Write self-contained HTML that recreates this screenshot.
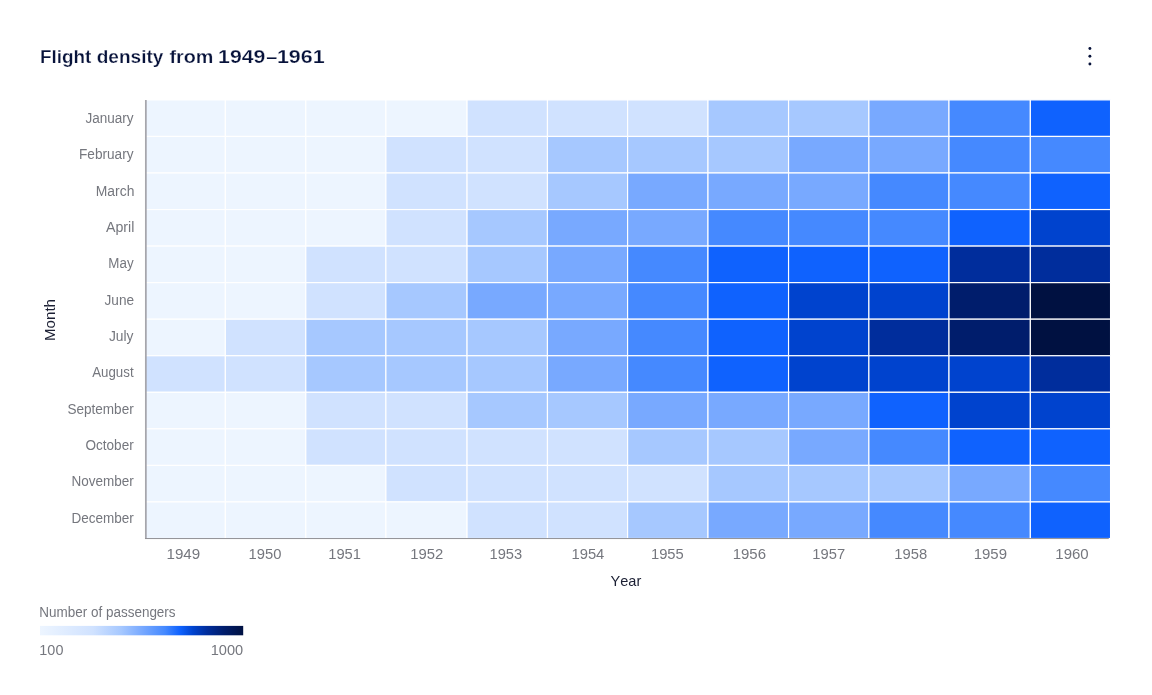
<!DOCTYPE html>
<html lang="en"><head><meta charset="utf-8"><title>Flight density from 1949–1961</title>
<style>html,body{margin:0;padding:0;background:#fff;}body{width:1152px;height:695px;overflow:hidden;}svg{display:block;}text{font-family:"Liberation Sans",sans-serif;font-kerning:none;}</style>
</head><body>
<svg width="1152" height="695" viewBox="0 0 1152 695">
<rect width="1152" height="695" fill="#ffffff"/>
<text class="title" y="62.6" font-weight="bold" font-size="18.6" fill="#07123a" stroke="#ffffff" stroke-width="0.25" paint-order="fill stroke">
<tspan x="39.93" textLength="51.51" lengthAdjust="spacingAndGlyphs">Flight</tspan> <tspan x="96.73" textLength="66.68" lengthAdjust="spacingAndGlyphs">density</tspan> <tspan x="169.53" textLength="43.95" lengthAdjust="spacingAndGlyphs">from</tspan> <tspan x="218.11" textLength="47.3" lengthAdjust="spacingAndGlyphs">1949</tspan><tspan x="266.26" textLength="11.07" lengthAdjust="spacingAndGlyphs">–</tspan><tspan x="276.9" textLength="47.78" lengthAdjust="spacingAndGlyphs">1961</tspan>
</text>
<g fill="#07123a"><circle cx="1089.9" cy="48.5" r="1.45"/><circle cx="1089.9" cy="56.2" r="1.45"/><circle cx="1089.9" cy="64" r="1.45"/></g>
<g class="heat" stroke="#ffffff" stroke-width="1.167">
<rect x="144.85" y="99.90" width="80.50" height="36.55" fill="#edf5ff"/>
<rect x="225.35" y="99.90" width="80.45" height="36.55" fill="#edf5ff"/>
<rect x="305.80" y="99.90" width="80.10" height="36.55" fill="#edf5ff"/>
<rect x="385.90" y="99.90" width="81.16" height="36.55" fill="#edf5ff"/>
<rect x="467.06" y="99.90" width="80.40" height="36.55" fill="#d0e2ff"/>
<rect x="547.46" y="99.90" width="80.14" height="36.55" fill="#d0e2ff"/>
<rect x="627.60" y="99.90" width="80.40" height="36.55" fill="#d0e2ff"/>
<rect x="708.00" y="99.90" width="80.56" height="36.55" fill="#a6c8ff"/>
<rect x="788.56" y="99.90" width="80.34" height="36.55" fill="#a6c8ff"/>
<rect x="868.90" y="99.90" width="80.10" height="36.55" fill="#78a9ff"/>
<rect x="949.00" y="99.90" width="81.35" height="36.55" fill="#4589ff"/>
<rect x="1030.35" y="99.90" width="80.21" height="36.55" fill="#0f62fe"/>
<rect x="144.85" y="136.45" width="80.50" height="36.55" fill="#edf5ff"/>
<rect x="225.35" y="136.45" width="80.45" height="36.55" fill="#edf5ff"/>
<rect x="305.80" y="136.45" width="80.10" height="36.55" fill="#edf5ff"/>
<rect x="385.90" y="136.45" width="81.16" height="36.55" fill="#d0e2ff"/>
<rect x="467.06" y="136.45" width="80.40" height="36.55" fill="#d0e2ff"/>
<rect x="547.46" y="136.45" width="80.14" height="36.55" fill="#a6c8ff"/>
<rect x="627.60" y="136.45" width="80.40" height="36.55" fill="#a6c8ff"/>
<rect x="708.00" y="136.45" width="80.56" height="36.55" fill="#a6c8ff"/>
<rect x="788.56" y="136.45" width="80.34" height="36.55" fill="#78a9ff"/>
<rect x="868.90" y="136.45" width="80.10" height="36.55" fill="#78a9ff"/>
<rect x="949.00" y="136.45" width="81.35" height="36.55" fill="#4589ff"/>
<rect x="1030.35" y="136.45" width="80.21" height="36.55" fill="#4589ff"/>
<rect x="144.85" y="173.00" width="80.50" height="36.55" fill="#edf5ff"/>
<rect x="225.35" y="173.00" width="80.45" height="36.55" fill="#edf5ff"/>
<rect x="305.80" y="173.00" width="80.10" height="36.55" fill="#edf5ff"/>
<rect x="385.90" y="173.00" width="81.16" height="36.55" fill="#d0e2ff"/>
<rect x="467.06" y="173.00" width="80.40" height="36.55" fill="#d0e2ff"/>
<rect x="547.46" y="173.00" width="80.14" height="36.55" fill="#a6c8ff"/>
<rect x="627.60" y="173.00" width="80.40" height="36.55" fill="#78a9ff"/>
<rect x="708.00" y="173.00" width="80.56" height="36.55" fill="#78a9ff"/>
<rect x="788.56" y="173.00" width="80.34" height="36.55" fill="#78a9ff"/>
<rect x="868.90" y="173.00" width="80.10" height="36.55" fill="#4589ff"/>
<rect x="949.00" y="173.00" width="81.35" height="36.55" fill="#4589ff"/>
<rect x="1030.35" y="173.00" width="80.21" height="36.55" fill="#0f62fe"/>
<rect x="144.85" y="209.55" width="80.50" height="36.55" fill="#edf5ff"/>
<rect x="225.35" y="209.55" width="80.45" height="36.55" fill="#edf5ff"/>
<rect x="305.80" y="209.55" width="80.10" height="36.55" fill="#edf5ff"/>
<rect x="385.90" y="209.55" width="81.16" height="36.55" fill="#d0e2ff"/>
<rect x="467.06" y="209.55" width="80.40" height="36.55" fill="#a6c8ff"/>
<rect x="547.46" y="209.55" width="80.14" height="36.55" fill="#78a9ff"/>
<rect x="627.60" y="209.55" width="80.40" height="36.55" fill="#78a9ff"/>
<rect x="708.00" y="209.55" width="80.56" height="36.55" fill="#4589ff"/>
<rect x="788.56" y="209.55" width="80.34" height="36.55" fill="#4589ff"/>
<rect x="868.90" y="209.55" width="80.10" height="36.55" fill="#4589ff"/>
<rect x="949.00" y="209.55" width="81.35" height="36.55" fill="#0f62fe"/>
<rect x="1030.35" y="209.55" width="80.21" height="36.55" fill="#0043ce"/>
<rect x="144.85" y="246.10" width="80.50" height="36.55" fill="#edf5ff"/>
<rect x="225.35" y="246.10" width="80.45" height="36.55" fill="#edf5ff"/>
<rect x="305.80" y="246.10" width="80.10" height="36.55" fill="#d0e2ff"/>
<rect x="385.90" y="246.10" width="81.16" height="36.55" fill="#d0e2ff"/>
<rect x="467.06" y="246.10" width="80.40" height="36.55" fill="#a6c8ff"/>
<rect x="547.46" y="246.10" width="80.14" height="36.55" fill="#78a9ff"/>
<rect x="627.60" y="246.10" width="80.40" height="36.55" fill="#4589ff"/>
<rect x="708.00" y="246.10" width="80.56" height="36.55" fill="#0f62fe"/>
<rect x="788.56" y="246.10" width="80.34" height="36.55" fill="#0f62fe"/>
<rect x="868.90" y="246.10" width="80.10" height="36.55" fill="#0f62fe"/>
<rect x="949.00" y="246.10" width="81.35" height="36.55" fill="#002d9c"/>
<rect x="1030.35" y="246.10" width="80.21" height="36.55" fill="#002d9c"/>
<rect x="144.85" y="282.65" width="80.50" height="36.55" fill="#edf5ff"/>
<rect x="225.35" y="282.65" width="80.45" height="36.55" fill="#edf5ff"/>
<rect x="305.80" y="282.65" width="80.10" height="36.55" fill="#d0e2ff"/>
<rect x="385.90" y="282.65" width="81.16" height="36.55" fill="#a6c8ff"/>
<rect x="467.06" y="282.65" width="80.40" height="36.55" fill="#78a9ff"/>
<rect x="547.46" y="282.65" width="80.14" height="36.55" fill="#78a9ff"/>
<rect x="627.60" y="282.65" width="80.40" height="36.55" fill="#4589ff"/>
<rect x="708.00" y="282.65" width="80.56" height="36.55" fill="#0f62fe"/>
<rect x="788.56" y="282.65" width="80.34" height="36.55" fill="#0043ce"/>
<rect x="868.90" y="282.65" width="80.10" height="36.55" fill="#0043ce"/>
<rect x="949.00" y="282.65" width="81.35" height="36.55" fill="#001d6c"/>
<rect x="1030.35" y="282.65" width="80.21" height="36.55" fill="#001141"/>
<rect x="144.85" y="319.20" width="80.50" height="36.55" fill="#edf5ff"/>
<rect x="225.35" y="319.20" width="80.45" height="36.55" fill="#d0e2ff"/>
<rect x="305.80" y="319.20" width="80.10" height="36.55" fill="#a6c8ff"/>
<rect x="385.90" y="319.20" width="81.16" height="36.55" fill="#a6c8ff"/>
<rect x="467.06" y="319.20" width="80.40" height="36.55" fill="#a6c8ff"/>
<rect x="547.46" y="319.20" width="80.14" height="36.55" fill="#78a9ff"/>
<rect x="627.60" y="319.20" width="80.40" height="36.55" fill="#4589ff"/>
<rect x="708.00" y="319.20" width="80.56" height="36.55" fill="#0f62fe"/>
<rect x="788.56" y="319.20" width="80.34" height="36.55" fill="#0043ce"/>
<rect x="868.90" y="319.20" width="80.10" height="36.55" fill="#002d9c"/>
<rect x="949.00" y="319.20" width="81.35" height="36.55" fill="#001d6c"/>
<rect x="1030.35" y="319.20" width="80.21" height="36.55" fill="#001141"/>
<rect x="144.85" y="355.75" width="80.50" height="36.55" fill="#d0e2ff"/>
<rect x="225.35" y="355.75" width="80.45" height="36.55" fill="#d0e2ff"/>
<rect x="305.80" y="355.75" width="80.10" height="36.55" fill="#a6c8ff"/>
<rect x="385.90" y="355.75" width="81.16" height="36.55" fill="#a6c8ff"/>
<rect x="467.06" y="355.75" width="80.40" height="36.55" fill="#a6c8ff"/>
<rect x="547.46" y="355.75" width="80.14" height="36.55" fill="#78a9ff"/>
<rect x="627.60" y="355.75" width="80.40" height="36.55" fill="#4589ff"/>
<rect x="708.00" y="355.75" width="80.56" height="36.55" fill="#0f62fe"/>
<rect x="788.56" y="355.75" width="80.34" height="36.55" fill="#0043ce"/>
<rect x="868.90" y="355.75" width="80.10" height="36.55" fill="#0043ce"/>
<rect x="949.00" y="355.75" width="81.35" height="36.55" fill="#0043ce"/>
<rect x="1030.35" y="355.75" width="80.21" height="36.55" fill="#002d9c"/>
<rect x="144.85" y="392.30" width="80.50" height="36.55" fill="#edf5ff"/>
<rect x="225.35" y="392.30" width="80.45" height="36.55" fill="#edf5ff"/>
<rect x="305.80" y="392.30" width="80.10" height="36.55" fill="#d0e2ff"/>
<rect x="385.90" y="392.30" width="81.16" height="36.55" fill="#d0e2ff"/>
<rect x="467.06" y="392.30" width="80.40" height="36.55" fill="#a6c8ff"/>
<rect x="547.46" y="392.30" width="80.14" height="36.55" fill="#a6c8ff"/>
<rect x="627.60" y="392.30" width="80.40" height="36.55" fill="#78a9ff"/>
<rect x="708.00" y="392.30" width="80.56" height="36.55" fill="#78a9ff"/>
<rect x="788.56" y="392.30" width="80.34" height="36.55" fill="#78a9ff"/>
<rect x="868.90" y="392.30" width="80.10" height="36.55" fill="#0f62fe"/>
<rect x="949.00" y="392.30" width="81.35" height="36.55" fill="#0043ce"/>
<rect x="1030.35" y="392.30" width="80.21" height="36.55" fill="#0043ce"/>
<rect x="144.85" y="428.85" width="80.50" height="36.55" fill="#edf5ff"/>
<rect x="225.35" y="428.85" width="80.45" height="36.55" fill="#edf5ff"/>
<rect x="305.80" y="428.85" width="80.10" height="36.55" fill="#d0e2ff"/>
<rect x="385.90" y="428.85" width="81.16" height="36.55" fill="#d0e2ff"/>
<rect x="467.06" y="428.85" width="80.40" height="36.55" fill="#d0e2ff"/>
<rect x="547.46" y="428.85" width="80.14" height="36.55" fill="#d0e2ff"/>
<rect x="627.60" y="428.85" width="80.40" height="36.55" fill="#a6c8ff"/>
<rect x="708.00" y="428.85" width="80.56" height="36.55" fill="#a6c8ff"/>
<rect x="788.56" y="428.85" width="80.34" height="36.55" fill="#78a9ff"/>
<rect x="868.90" y="428.85" width="80.10" height="36.55" fill="#4589ff"/>
<rect x="949.00" y="428.85" width="81.35" height="36.55" fill="#0f62fe"/>
<rect x="1030.35" y="428.85" width="80.21" height="36.55" fill="#0f62fe"/>
<rect x="144.85" y="465.40" width="80.50" height="36.55" fill="#edf5ff"/>
<rect x="225.35" y="465.40" width="80.45" height="36.55" fill="#edf5ff"/>
<rect x="305.80" y="465.40" width="80.10" height="36.55" fill="#edf5ff"/>
<rect x="385.90" y="465.40" width="81.16" height="36.55" fill="#d0e2ff"/>
<rect x="467.06" y="465.40" width="80.40" height="36.55" fill="#d0e2ff"/>
<rect x="547.46" y="465.40" width="80.14" height="36.55" fill="#d0e2ff"/>
<rect x="627.60" y="465.40" width="80.40" height="36.55" fill="#d0e2ff"/>
<rect x="708.00" y="465.40" width="80.56" height="36.55" fill="#a6c8ff"/>
<rect x="788.56" y="465.40" width="80.34" height="36.55" fill="#a6c8ff"/>
<rect x="868.90" y="465.40" width="80.10" height="36.55" fill="#a6c8ff"/>
<rect x="949.00" y="465.40" width="81.35" height="36.55" fill="#78a9ff"/>
<rect x="1030.35" y="465.40" width="80.21" height="36.55" fill="#4589ff"/>
<rect x="144.85" y="501.95" width="80.50" height="36.55" fill="#edf5ff"/>
<rect x="225.35" y="501.95" width="80.45" height="36.55" fill="#edf5ff"/>
<rect x="305.80" y="501.95" width="80.10" height="36.55" fill="#edf5ff"/>
<rect x="385.90" y="501.95" width="81.16" height="36.55" fill="#edf5ff"/>
<rect x="467.06" y="501.95" width="80.40" height="36.55" fill="#d0e2ff"/>
<rect x="547.46" y="501.95" width="80.14" height="36.55" fill="#d0e2ff"/>
<rect x="627.60" y="501.95" width="80.40" height="36.55" fill="#a6c8ff"/>
<rect x="708.00" y="501.95" width="80.56" height="36.55" fill="#78a9ff"/>
<rect x="788.56" y="501.95" width="80.34" height="36.55" fill="#78a9ff"/>
<rect x="868.90" y="501.95" width="80.10" height="36.55" fill="#4589ff"/>
<rect x="949.00" y="501.95" width="81.35" height="36.55" fill="#4589ff"/>
<rect x="1030.35" y="501.95" width="80.21" height="36.55" fill="#0f62fe"/>
</g>
<line x1="145.85" y1="99.9" x2="145.85" y2="539.05" stroke="#a6a6ac" stroke-width="1.75"/>
<line x1="145" y1="538.55" x2="1108.8" y2="538.55" stroke="#909095" stroke-width="1.0"/>
<g class="ylab" font-size="14" fill="#75777e">
<text x="85.46" textLength="48.1" lengthAdjust="spacingAndGlyphs" y="123.00">January</text>
<text x="79.01" textLength="54.53" lengthAdjust="spacingAndGlyphs" y="159.33">February</text>
<text x="95.78" textLength="38.62" lengthAdjust="spacingAndGlyphs" y="195.66">March</text>
<text x="106.0" textLength="28.4" lengthAdjust="spacingAndGlyphs" y="231.99">April</text>
<text x="108.33" textLength="25.25" lengthAdjust="spacingAndGlyphs" y="268.32">May</text>
<text x="104.56" textLength="29.54" lengthAdjust="spacingAndGlyphs" y="304.65">June</text>
<text x="108.95" textLength="24.58" lengthAdjust="spacingAndGlyphs" y="340.98">July</text>
<text x="92.2" textLength="41.39" lengthAdjust="spacingAndGlyphs" y="377.31">August</text>
<text x="67.39" textLength="66.33" lengthAdjust="spacingAndGlyphs" y="413.64">September</text>
<text x="85.5" textLength="48.19" lengthAdjust="spacingAndGlyphs" y="449.97">October</text>
<text x="71.42" textLength="62.3" lengthAdjust="spacingAndGlyphs" y="486.30">November</text>
<text x="71.42" textLength="62.3" lengthAdjust="spacingAndGlyphs" y="522.63">December</text>
</g>
<g class="xlab" font-size="14.3" fill="#75777e">
<text x="166.51" textLength="33.72" lengthAdjust="spacingAndGlyphs" y="559.0">1949</text>
<text x="248.64" textLength="32.84" lengthAdjust="spacingAndGlyphs" y="559.0">1950</text>
<text x="328.24" textLength="32.77" lengthAdjust="spacingAndGlyphs" y="559.0">1951</text>
<text x="410.23" textLength="32.98" lengthAdjust="spacingAndGlyphs" y="559.0">1952</text>
<text x="489.54" textLength="32.66" lengthAdjust="spacingAndGlyphs" y="559.0">1953</text>
<text x="571.44" textLength="32.92" lengthAdjust="spacingAndGlyphs" y="559.0">1954</text>
<text x="650.94" textLength="32.84" lengthAdjust="spacingAndGlyphs" y="559.0">1955</text>
<text x="732.72" textLength="33.3" lengthAdjust="spacingAndGlyphs" y="559.0">1956</text>
<text x="812.34" textLength="32.77" lengthAdjust="spacingAndGlyphs" y="559.0">1957</text>
<text x="894.24" textLength="32.87" lengthAdjust="spacingAndGlyphs" y="559.0">1958</text>
<text x="973.72" textLength="33.3" lengthAdjust="spacingAndGlyphs" y="559.0">1959</text>
<text x="1055.32" textLength="33.37" lengthAdjust="spacingAndGlyphs" y="559.0">1960</text>
</g>
<text x="610.52" textLength="30.79" lengthAdjust="spacingAndGlyphs" y="586.2" font-size="14.3" fill="#1b1f33">Year</text>
<text transform="translate(55.35 320) rotate(-90)" font-size="14.9" fill="#1b1f33" text-anchor="middle" textLength="42.0" lengthAdjust="spacingAndGlyphs">Month</text>
<defs><linearGradient id="lg" x1="0" x2="1" y1="0" y2="0">
<stop offset="0.00%" stop-color="#edf5ff"/>
<stop offset="26.08%" stop-color="#d0e2ff"/>
<stop offset="39.86%" stop-color="#a6c8ff"/>
<stop offset="50.20%" stop-color="#78a9ff"/>
<stop offset="61.52%" stop-color="#4589ff"/>
<stop offset="68.90%" stop-color="#0f62fe"/>
<stop offset="75.30%" stop-color="#0043ce"/>
<stop offset="82.19%" stop-color="#002d9c"/>
<stop offset="90.55%" stop-color="#001d6c"/>
<stop offset="100.00%" stop-color="#001141"/>
</linearGradient></defs>
<text x="39.32" textLength="136.28" lengthAdjust="spacingAndGlyphs" y="616.6" font-size="14" fill="#75777e">Number of passengers</text>
<rect x="40" y="625.9" width="203.2" height="9.4" fill="url(#lg)"/>
<text x="39.37" textLength="24.03" lengthAdjust="spacingAndGlyphs" y="655.3" font-size="14" fill="#75777e">100</text>
<text x="210.66" textLength="32.5" lengthAdjust="spacingAndGlyphs" y="655.3" font-size="14" fill="#75777e">1000</text>
</svg></body></html>
